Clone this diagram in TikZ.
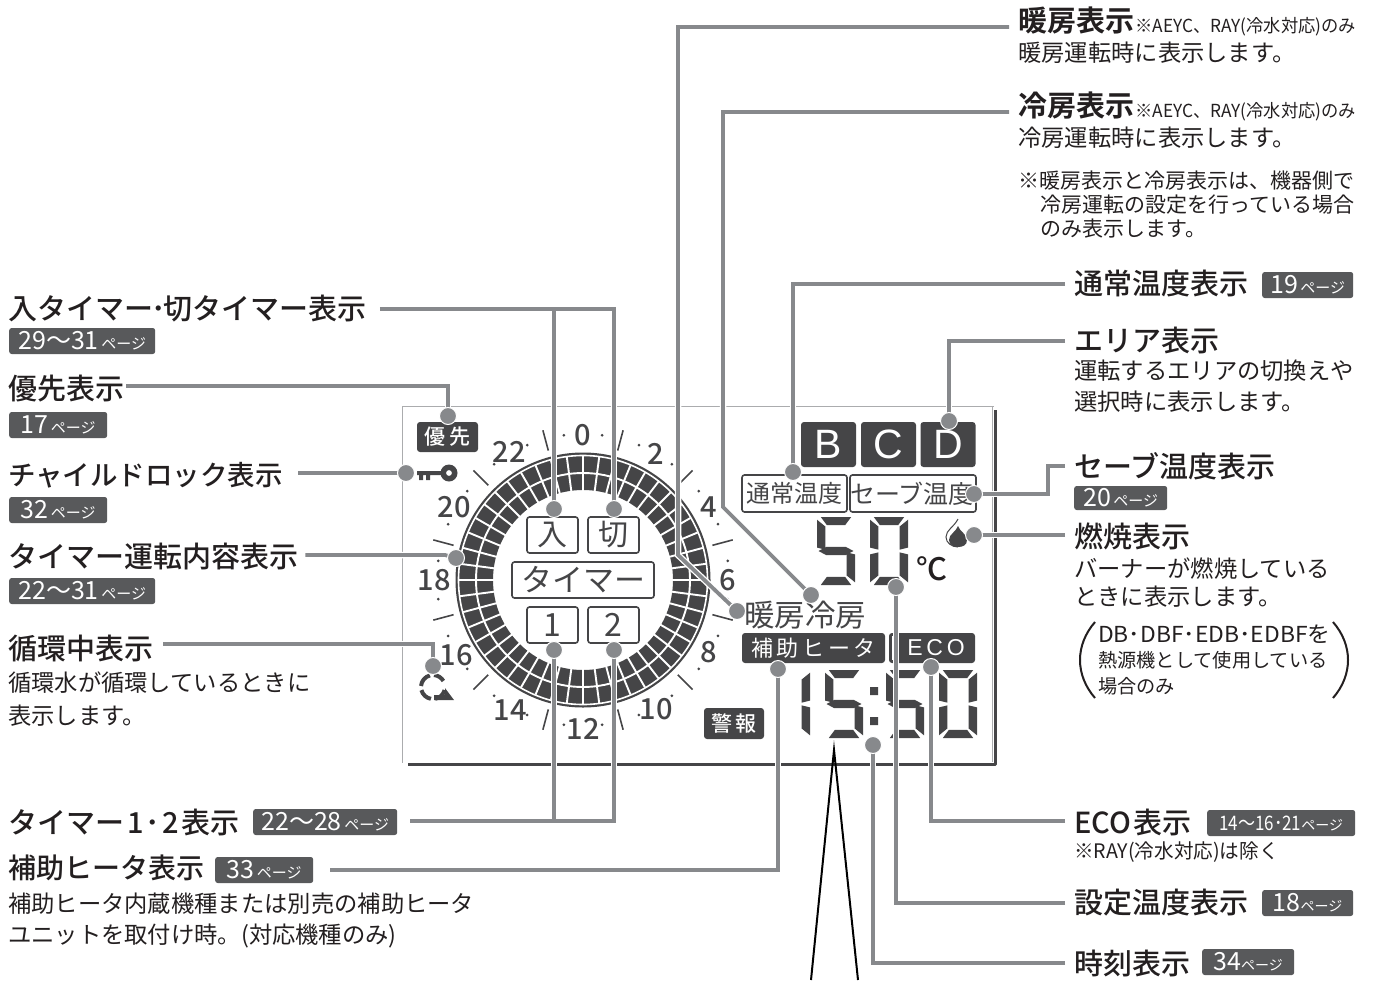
\documentclass[tikz,border=0pt]{standalone}
\usetikzlibrary{calc}
\usepackage{fontspec}
\setmainfont{Noto Sans CJK JP}
\newfontfamily\hdfont{Noto Sans CJK JP Medium}
\newfontfamily\bdfont[BoldFont={Noto Sans CJK JP Bold}]{Noto Sans CJK JP Bold}
\definecolor{lcd}{HTML}{454547}
\definecolor{lead}{HTML}{87898C}
\definecolor{badgec}{HTML}{58595B}
\definecolor{ink}{HTML}{231F20}
\newcommand{\fs}[1]{\fontsize{#1}{#1}\selectfont}
\newcommand{\digitA}{\fill[lcd] (10,0)--(90,0)--(74,12)--(26,12)--cycle;}
\newcommand{\digitB}{\fill[lcd] (100,4)--(100,45)--(78,48)--(78,14)--cycle;}
\newcommand{\digitC}{\fill[lcd] (100,55)--(100,96)--(78,86)--(78,52)--cycle;}
\newcommand{\digitD}{\fill[lcd] (10,100)--(90,100)--(74,88)--(26,88)--cycle;}
\newcommand{\digitE}{\fill[lcd] (0,55)--(0,96)--(22,86)--(22,52)--cycle;}
\newcommand{\digitF}{\fill[lcd] (0,4)--(0,45)--(22,48)--(22,14)--cycle;}
\newcommand{\digitG}{\fill[lcd] (4,50)--(24,44)--(76,44)--(96,50)--(76,56)--(24,56)--cycle;}
\newcommand{\dfive}[4]{\begin{scope}[shift={(#1,#2)},xscale=#3/100,yscale=#4/100]\digitA\digitF\digitG\digitC\digitD\end{scope}}
\newcommand{\dzero}[4]{\begin{scope}[shift={(#1,#2)},xscale=#3/100,yscale=#4/100]\digitA\digitB\digitC\digitD\digitE\digitF\end{scope}}
\newcommand{\done}[4]{\begin{scope}[shift={(#1,#2)},xscale=#3/100,yscale=#4/100]\digitB\digitC\end{scope}}
\tikzset{
 x=1pt,y=-1pt,
 head/.style={anchor=west,inner sep=0pt,text=ink,font=\hdfont\fs{29}},
 headb/.style={anchor=west,inner sep=0pt,text=ink,font=\bdfont\fs{29}},
 note/.style={anchor=west,inner sep=0pt,text=ink,font=\fs{23.3}},
 note2/.style={anchor=west,inner sep=0pt,text=ink,font=\fs{21}},
 smallnote/.style={anchor=west,inner sep=0pt,text=ink,font=\fs{19.2}},
 pagebadge/.style={fill=badgec,text=white,rounded corners=2.5pt,anchor=west,inner sep=0pt,minimum height=26pt,font=\fs{25}},
 lcdbox/.style={draw=lcd,line width=1.6pt,rounded corners=2.5pt,fill=white,inner sep=0pt,text=lcd,font=\fs{30}},
 lcdfill/.style={fill=lcd,rounded corners=3pt,inner sep=0pt,text=white,font=\hdfont\fs{21}},
 leader/.style={draw=lead,line width=3.8pt,line join=miter,preaction={draw=white,line width=6.5pt}},
 ldot/.style={fill=lead,draw=white,line width=1pt},
 hour/.style={inner sep=0pt,text=lcd,font=\hdfont\fs{29}},
}
\newcommand{\pg}{\fs{15}\,ページ}
\newcommand{\leaddot}[1]{\filldraw[ldot] (#1) circle (8.5);}
\begin{document}
\begin{tikzpicture}
\useasboundingbox (0,0) rectangle (1373,980);
% panel
\draw[lead!70,line width=1pt] (994,406) -- (402,406) -- (402,763);
\draw[lead!70,line width=1pt] (992,406) -- (992,762);
\draw[lcd,line width=3pt,line join=round] (995,410) -- (995,764) -- (408,764);
% ring
\def\cx{583}\def\cy{580}
\coordinate (ringc) at (\cx,\cy);
\fill[lcd,even odd rule] (ringc) circle (127.5) (ringc) circle (90);
\draw[white,line width=1.6pt] (ringc) circle (124.5);
\foreach \a in {0,7.5,...,352.5}
  {\draw[white,line width=1.9pt] ($(ringc)+(\a:89)$) -- ($(ringc)+(\a:124)$);}
\draw[white,line width=1.9pt] (ringc) circle (107);
% ticks
\foreach \a in {15,45,...,345}
  {\draw[lcd,line width=1.6pt] ($(ringc)+(\a:134)$) -- ($(ringc)+(\a:155)$);}
\foreach \a in {7.5,22.5,37.5,52.5,67.5,82.5,97.5,112.5,127.5,142.5,157.5,172.5,187.5,202.5,217.5,232.5,247.5,262.5,277.5,292.5,307.5,322.5,337.5,352.5}
  {\fill[lcd] ($(ringc)+(\a:146)$) circle (1.5);}
% hours
\node[hour] (h0) at (583,435) {0};
\node[hour] (h2) at (656,454) {2};
\node[hour] (h4) at (709,507) {4};
\node[hour] (h6) at (728,580) {6};
\node[hour] (h8) at (709,652) {8};
\node[hour] (h10) at (656,709) {10};
\node[hour] (h12) at (583,729) {12};
\node[hour] (h14) at (510,710) {14};
\node[hour] (h16) at (456,655) {16};
\node[hour] (h18) at (434,580) {18};
\node[hour] (h20) at (454,507) {20};
\node[hour] (h22) at (509,452) {22};
% LCD boxes
\node[lcdbox,minimum width=51pt,minimum height=36pt] (iri) at (552.5,535) {入};
\node[lcdbox,minimum width=51pt,minimum height=36pt] (kiri) at (613.5,535) {切};
\node[lcdbox,minimum width=142pt,minimum height=36pt,font=\fs{31}] (tmr) at (583,580) {タイマー};
\node[lcdbox,minimum width=51pt,minimum height=36pt,font=\fs{32}] (one) at (552.5,625) {1};
\node[lcdbox,minimum width=51pt,minimum height=36pt,font=\fs{32}] (two) at (613.5,625) {2};
\node[lcdfill,minimum width=61pt,minimum height=30pt] (yusen) at (447.5,437) {優\,先};
\node[lcdfill,minimum width=60pt,minimum height=31pt] (keiho) at (734,723.5) {警\,報};
\foreach \n/\x/\t in {bb/828.5/B,bc/888.5/C,bd/948/D}
  {\node[lcdfill,minimum width=55pt,minimum height=45pt,font=\fontspec{Liberation Sans}\fs{41}] (\n) at (\x,444.5) {\t};}
\node[lcdbox,minimum width=105pt,minimum height=37pt,font=\fs{24}] (tsujo) at (794.5,493.5) {通常温度};
\node[lcdbox,minimum width=126pt,minimum height=37pt,font=\fs{25}] (save) at (913,493.5) {\hspace{-2pt}セーブ温度};
\node[inner sep=0pt,text=lcd,font=\fs{30.5}] (danrei) at (805,615) {暖房冷房};
\node[lcdfill,minimum width=143pt,minimum height=30pt,font=\fs{22}] (hojo) at (813.5,648) {補\,助\,ヒ\,ー\,タ};
\node[lcdfill,minimum width=86pt,minimum height=30pt,font=\fontspec{Liberation Sans}\fs{23}] (eco) at (932,648) {\hspace{8pt}E\,C\,O};
\fill[white] (892,636) rectangle (894,660);
% digits
\dfive{817}{517}{38}{68}
\dzero{870}{517}{38}{68}
\node[inner sep=0pt,text=ink,font=\hdfont\fs{31}] (degc) at (932,569) {℃};
\done{772}{670}{38}{68}
\dfive{825}{670}{38}{68}
\fill[lcd] (870,687) rectangle (878,695) (870,717) rectangle (878,725);
\dfive{886}{670}{38}{68}
\dzero{939}{670}{38}{68}
% icons
\fill[lcd] (417,471) rectangle (441,475) (419,475) rectangle (423,480) (426,475) rectangle (430,480);
\fill[lcd,even odd rule] (449,473) circle (8.5) (449,473) circle (3);
\foreach \s/\e in {100/165,185/255,275/330,15/80}
  {\draw[lcd,line width=4pt] ($(433,687)+(\s:12)$) arc[start angle=\s,end angle=\e,radius=12];}
\fill[lcd] (434,695) -- (445,695) -- (445,688) -- (454,700) -- (434,700) -- cycle;
\draw[lcd,line width=1pt] (958,519) .. controls (954,527) and (946,530) .. (946,537) .. controls (946,543) and (952,547) .. (958,547);
\fill[lcd] (958,526) .. controls (956,532) and (949,534) .. (949,540) .. controls (949,545) and (954,547) .. (958,547) .. controls (963,547) and (967,545) .. (967,540) .. controls (967,534) and (960,532) .. (958,526) -- cycle;
% black triangle lines
\coordinate (apex) at (834,750);
\coordinate (botl) at (811,980);
\coordinate (botr) at (858,980);
\draw[black,line width=2pt] (botl) -- (apex) -- (botr);
% LEFT labels
\node[head] (tTimer) at (8,309) {入タイマー\hspace{-2pt}･\hspace{-2pt}切タイマー表示};
\node[pagebadge,minimum width=146pt] (bTimer) at (9,341) {29～31\pg};
\node[head] (tYusen) at (8,389) {優先表示};
\node[pagebadge,minimum width=98pt] (bYusen) at (9,425) {17\pg};
\node[head,font=\hdfont\fs{27.5}] (tChild) at (8,475) {チャイルドロック表示};
\node[pagebadge,minimum width=98pt] (bChild) at (9,510) {32\pg};
\node[head] (tTim2) at (8,557) {タイマー運転内容表示};
\node[pagebadge,minimum width=146pt] (bTim2) at (9,591) {22～31\pg};
\node[head] (tJunk) at (8,648) {循環中表示};
\node[note] (nJunk1) at (8,683) {循環水が循環しているときに};
\node[note] (nJunk2) at (8,716) {表示します。};
\node[head] (tT12) at (8,822) {タイマー\hspace{3pt}1\hspace{2pt}･\hspace{2pt}2\hspace{3pt}表示};
\node[pagebadge,minimum width=144pt] (bT12) at (253,822) {22～28\pg};
\node[head,font=\hdfont\fs{28}] (tHojo) at (8,868) {補助ヒータ表示};
\node[pagebadge,minimum width=98pt] (bHojo) at (215,870) {33\pg};
\node[note] (nHojo1) at (8,904) {補助ヒータ内蔵機種または別売の補助ヒータ};
\node[note] (nHojo2) at (8,936) {ユニットを取付け時。(対応機種のみ)};
% RIGHT labels
\node[headb] (tDan) at (1018,21) {暖房表示};
\node[anchor=west,inner sep=0pt,text=ink,font=\fs{18}] (sDan) at (1135,27) {\scalebox{0.96}[1]{※AEYC、RAY(冷水対応)のみ}};
\node[note] (nDan) at (1018,53) {暖房運転時に表示します。};
\node[headb] (tRei) at (1018,106) {冷房表示};
\node[anchor=west,inner sep=0pt,text=ink,font=\fs{18}] (sRei) at (1135,112) {\scalebox{0.96}[1]{※AEYC、RAY(冷水対応)のみ}};
\node[note] (nRei) at (1018,138) {冷房運転時に表示します。};
\node[note2] (n1) at (1018,181) {※暖房表示と冷房表示は、機器側で};
\node[note2] (n2) at (1040,205) {冷房運転の設定を行っている場合};
\node[note2] (n3) at (1040,229) {のみ表示します。};
\node[head] (tTsu) at (1074,284) {通常温度表示};
\node[pagebadge,minimum width=91pt] (bTsu) at (1262,285) {19\pg};
\node[head] (tArea) at (1074,340) {エリア表示};
\node[note] (nArea1) at (1074,371) {運転するエリアの切換えや};
\node[note] (nArea2) at (1074,402) {選択時に表示します。};
\node[head] (tSave) at (1074,466) {セーブ温度表示};
\node[pagebadge,minimum width=93pt,minimum height=24pt] (bSave) at (1074,498) {20\pg};
\node[head] (tNen) at (1074,536) {燃焼表示};
\node[note] (nNen1) at (1074,569) {バーナーが燃焼している};
\node[note] (nNen2) at (1074,597) {ときに表示します。};
\node[smallnote] (nDb1) at (1098,634) {\scalebox{1.04}[1]{\fs{22}DB･DBF･EDB･EDBFを}};
\node[smallnote] (nDb2) at (1098,660) {熱源機として使用している};
\node[smallnote] (nDb3) at (1098,686) {場合のみ};
\coordinate (pl1) at (1095,622); \coordinate (pl2) at (1095,698);
\coordinate (pr1) at (1333,622); \coordinate (pr2) at (1333,698);
\draw[ink,line width=2pt] (pl1) .. controls (1075,645) and (1075,675) .. (pl2);
\draw[ink,line width=2pt] (pr1) .. controls (1353,645) and (1353,675) .. (pr2);
\node[head] (tEco) at (1074,822) {ECO\hspace{2pt}表示};
\node[pagebadge,minimum width=148pt,font=\fs{20}] (bEco) at (1207,823) {\scalebox{0.85}[1]{14～16･21}\fs{14}ページ};
\node[smallnote] (nEco) at (1074,852) {\scalebox{0.98}[1]{\fs{20}※RAY(冷水対応)は除く}};
\node[head] (tSet) at (1074,903) {設定温度表示};
\node[pagebadge,minimum width=91pt] (bSet) at (1262,903) {18\fs{14}ページ};
\node[head] (tClk) at (1074,963) {時刻表示};
\node[pagebadge,minimum width=92pt] (bClk) at (1202,962) {34\fs{14}ページ};
% leader end points
\coordinate (dDan) at (737,611);
\coordinate (dRei) at (811,595);
\coordinate (dTsu) at (793,472);
\coordinate (dArea) at (949,421);
\coordinate (dSave) at (974,494);
\coordinate (dNen) at (974,535);
\coordinate (dIri) at (554,509);
\coordinate (dKiri) at (614,509);
\coordinate (dYusen) at (448,416);
\coordinate (dChild) at (406,473);
\coordinate (dTim2) at (456,558);
\coordinate (dJunk) at (433,666);
\coordinate (dOne) at (554,650);
\coordinate (dTwo) at (614,650);
\coordinate (dHojo) at (778,669);
\coordinate (dEco) at (931,667);
\coordinate (dSet) at (896,587);
\coordinate (dClk) at (873,745);
% leaders
\draw[leader] (tDan.west)++(-9,6) -| (678,555) -- (dDan);
\draw[leader] (tRei.west)++(-9,6) -| (723,507) -- (dRei);
\draw[leader] (tTsu.west)++(-9,0) -| (dTsu);
\draw[leader] (tArea.west)++(-9,1) -| (dArea);
\draw[leader] (tSave.west)++(-9,0) -- (1048,466) |- (dSave);
\draw[leader] (tNen.west)++(-9,-1) -- (dNen);
\draw[leader] (tTimer.east)++(13,0) -| (dKiri) (554,309) -- (dIri);
\draw[leader] (tYusen.east)++(2,-3) -| (dYusen);
\draw[leader] (tChild.east)++(15,-2) -- (dChild);
\draw[leader] (tTim2.east)++(7,-2) -- (445,555) -- (dTim2);
\draw[leader] (tJunk.east)++(10,-4) -| (dJunk);
\draw[leader] (bT12.east)++(13,-1) -| (dTwo) (554,821) -- (dOne);
\draw[leader] (bHojo.east)++(17,0) -| (dHojo);
\draw[leader] (tEco.west)++(-9,-1) -| (dEco);
\draw[leader] (tSet.west)++(-9,0) -| (dSet);
\draw[leader] (tClk.west)++(-9,0) -| (dClk);
\foreach \d in {dDan,dRei,dTsu,dArea,dSave,dNen,dIri,dKiri,dYusen,dChild,dTim2,dJunk,dOne,dTwo,dHojo,dEco,dSet,dClk}
  {\leaddot{\d}}
\end{tikzpicture}
\end{document}
